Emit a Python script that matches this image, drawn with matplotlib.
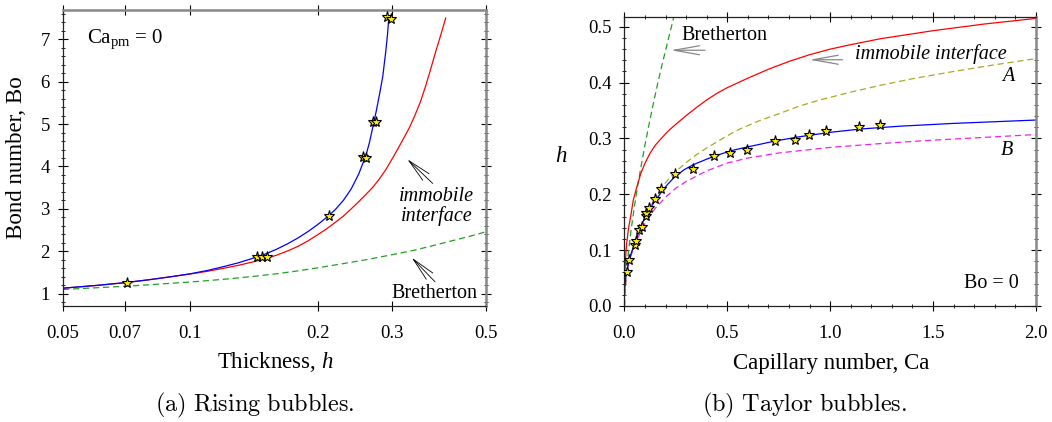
import matplotlib
matplotlib.use("Agg")
import matplotlib.pyplot as plt
from matplotlib.ticker import FixedLocator, NullLocator, MultipleLocator, FormatStrFormatter

plt.rcParams.update({
    "font.family": "Liberation Serif",
    "mathtext.fontset": "custom",
    "mathtext.rm": "Liberation Serif",
    "mathtext.it": "Liberation Serif:italic",
    "font.size": 13,
})

# ---- (a) rising bubbles: Bo vs h ----
a_blue_h = [0.05, 0.06, 0.07, 0.08, 0.09, 0.10, 0.11, 0.12, 0.13, 0.14, 0.15, 0.16, 0.17,
            0.18, 0.19, 0.20, 0.21, 0.22, 0.23, 0.24, 0.25, 0.26, 0.265, 0.27, 0.275, 0.28,
            0.285, 0.29, 0.2925, 0.2945]
a_blue_bo = [1.13, 1.195, 1.26, 1.33, 1.40, 1.47, 1.55, 1.64, 1.73, 1.83, 1.93, 2.05, 2.18,
             2.32, 2.47, 2.63, 2.80, 2.98, 3.20, 3.47, 3.82, 4.26, 4.56, 4.93, 5.30, 5.70,
             6.12, 6.75, 7.12, 7.5]
a_red_h = [0.05, 0.06, 0.07, 0.08, 0.09, 0.10, 0.11, 0.12, 0.13, 0.14, 0.15, 0.16, 0.17, 0.18,
           0.19, 0.20, 0.21, 0.22, 0.23, 0.24, 0.25, 0.26, 0.27, 0.28, 0.29, 0.30, 0.31, 0.32,
           0.33, 0.34, 0.35, 0.36, 0.37, 0.38, 0.39, 0.4015]
a_red_bo = [1.13, 1.195, 1.26, 1.33, 1.40, 1.465, 1.53, 1.60, 1.67, 1.745, 1.82, 1.91, 2.01,
            2.12, 2.25, 2.39, 2.53, 2.68, 2.83, 3.00, 3.17, 3.34, 3.51, 3.71, 3.93, 4.18,
            4.43, 4.68, 4.93, 5.22, 5.53, 5.90, 6.30, 6.70, 7.07, 7.5]
a_bret_h = [0.05, 0.06, 0.07, 0.08, 0.09, 0.10, 0.12, 0.14, 0.16, 0.18, 0.20, 0.23, 0.26,
            0.30, 0.34, 0.38, 0.42, 0.46, 0.50]
a_bret_bo = [1.10, 1.14, 1.175, 1.21, 1.245, 1.275, 1.34, 1.405, 1.47, 1.54, 1.61, 1.71, 1.80,
             1.92, 2.03, 2.15, 2.26, 2.36, 2.46]
a_star_h = [0.0707, 0.1435, 0.148, 0.152, 0.2131, 0.2564, 0.260, 0.2698, 0.2748, 0.2912, 0.2977]
a_star_bo = [1.26, 1.87, 1.87, 1.87, 2.84, 4.22, 4.2, 5.05, 5.04, 7.52, 7.47]
a_xticks = [0.05, 0.07, 0.1, 0.2, 0.3, 0.5]
a_xlabels = ["0.05", "0.07", "0.1", "0.2", "0.3", "0.5"]

# ---- (b) Taylor bubbles: h vs Ca ----
b_bret_ca = [0.0, 0.002, 0.005, 0.01, 0.015, 0.02, 0.03, 0.04, 0.05, 0.065, 0.08, 0.1, 0.116,
             0.14, 0.16, 0.18, 0.2, 0.22, 0.245]
b_bret_h = [0.0, 0.021, 0.039, 0.062, 0.082, 0.099, 0.130, 0.157, 0.182, 0.217, 0.249, 0.289,
            0.319, 0.362, 0.396, 0.428, 0.458, 0.488, 0.525]
b_red_ca = [0.002, 0.005, 0.01, 0.02, 0.03, 0.043, 0.06, 0.08, 0.1, 0.125, 0.15, 0.175, 0.2,
            0.225, 0.25, 0.3, 0.35, 0.4, 0.45, 0.5, 0.6, 0.7, 0.8, 0.9, 1.0, 1.1, 1.25, 1.5,
            1.75, 2.0]
b_red_h = [0.06, 0.085, 0.11, 0.14, 0.16, 0.19, 0.213, 0.238, 0.256, 0.274, 0.288, 0.2985,
           0.3085, 0.3175, 0.3255, 0.341, 0.3555, 0.369, 0.381, 0.391, 0.408, 0.424, 0.438,
           0.450, 0.460, 0.468, 0.479, 0.493, 0.505, 0.515]
b_a_ca = [0.0, 0.011, 0.023, 0.05, 0.075, 0.1, 0.15, 0.2, 0.25, 0.3, 0.35, 0.4, 0.45, 0.5,
          0.561, 0.65, 0.756, 0.85, 0.95, 1.1, 1.242, 1.4, 1.6, 1.8, 2.0]
b_a_h = [0.02, 0.061, 0.083, 0.112, 0.14, 0.163, 0.195, 0.221, 0.241, 0.257, 0.271, 0.283,
         0.294, 0.305, 0.317, 0.331, 0.345, 0.358, 0.369, 0.383, 0.395, 0.407, 0.420, 0.432,
         0.443]
b_blue_ca = [0.001, 0.005, 0.011, 0.023, 0.035, 0.05, 0.075, 0.1, 0.125, 0.15, 0.18, 0.21,
             0.244, 0.29, 0.334, 0.4, 0.45, 0.529, 0.6, 0.74, 0.85, 1.0, 1.15, 1.339, 1.6,
             1.8, 2.0]
b_blue_h = [0.03, 0.048, 0.061, 0.083, 0.097, 0.112, 0.138, 0.159, 0.175, 0.189, 0.204, 0.218,
            0.231, 0.244, 0.253, 0.263, 0.270, 0.279, 0.285, 0.296, 0.303, 0.311, 0.317, 0.322,
            0.327, 0.330, 0.333]
b_b_ca = [0.0, 0.002, 0.005, 0.01, 0.02, 0.035, 0.05, 0.075, 0.1, 0.125, 0.15, 0.2, 0.25, 0.3,
          0.4, 0.5, 0.6, 0.75, 0.85, 1.0, 1.25, 1.5, 1.75, 2.0]
b_b_h = [0.0, 0.025, 0.04, 0.056, 0.075, 0.094, 0.108, 0.13, 0.148, 0.163, 0.175, 0.195, 0.211,
         0.223, 0.242, 0.256, 0.265, 0.274, 0.278, 0.284, 0.291, 0.297, 0.302, 0.307]
b_star_ca = [0.0099, 0.0214, 0.051, 0.0577, 0.071, 0.084, 0.104, 0.107, 0.120, 0.150, 0.180,
             0.244, 0.335, 0.437, 0.513, 0.595, 0.734, 0.829, 0.899, 0.978, 1.139, 1.241]
b_star_h = [0.061, 0.082, 0.109, 0.117, 0.136, 0.142, 0.161, 0.166, 0.175, 0.191, 0.209,
            0.236, 0.246, 0.268, 0.274, 0.280, 0.296, 0.298, 0.306, 0.313, 0.321, 0.324]

fig = plt.figure(figsize=(10.52, 4.22), dpi=100)
ax1 = fig.add_axes([0.0599, 0.2749, 0.4021, 0.7014])
ax2 = fig.add_axes([0.5936, 0.2749, 0.3911, 0.6841])

star_kw = dict(ls="none", marker="*", ms=8, mfc="#ffee00", mec="black", mew=0.8, zorder=5)
lw = 0.9


def style_axes(ax):
    ax.tick_params(which="both", direction="inout", top=True, right=True, labelsize=13.5, pad=6)
    ax.tick_params(which="major", length=7, width=0.8)
    ax.tick_params(which="minor", length=3.5, width=0.6)
    for s in ax.spines.values():
        s.set_linewidth(0.9)
        s.set_color("#222222")


# panel (a)
ax1.plot(a_bret_h, a_bret_bo, color="#22a022", lw=lw, dashes=(5, 3))
ax1.plot(a_red_h, a_red_bo, color="red", lw=lw)
ax1.plot(a_blue_h, a_blue_bo, color="blue", lw=lw)
ax1.plot(a_star_h, a_star_bo, **star_kw)
ax1.set_xscale("log")
ax1.set_xlim(0.05, 0.5)
ax1.set_ylim(0.71, 7.69)
ax1.xaxis.set_major_locator(FixedLocator(a_xticks))
ax1.set_xticklabels(a_xlabels)
ax1.xaxis.set_minor_locator(NullLocator())
ax1.yaxis.set_major_locator(MultipleLocator(1))
ax1.yaxis.set_minor_locator(MultipleLocator(0.2))
style_axes(ax1)
ax1.tick_params(axis="x", pad=10)
for side in ("top", "right"):
    ax1.spines[side].set_color("#888888")
    ax1.spines[side].set_linewidth(1.8)

ax1.text(0.056, 0.90, r"Ca$_{\rm pm}$ = 0", transform=ax1.transAxes, fontsize=15,
         ha="left", va="center")
ax1.text(0.3824, 3.05, "immobile\ninterface", style="italic", fontsize=14.5, ha="center",
         va="center", linespacing=1.0)
ax1.text(0.3786, 1.01, "Bretherton", fontsize=14.5, ha="center", va="center")
arr = dict(arrowstyle="->,head_length=1.3,head_width=0.25", color="black", lw=0.6,
           shrinkA=0, shrinkB=0)
ax1.annotate("", xy=(0.3258, 4.17), xytext=(0.374, 3.60), arrowprops=arr)
ax1.annotate("", xy=(0.3337, 1.85), xytext=(0.3788, 1.28), arrowprops=arr)

# panel (b)
ax2.plot(b_bret_ca, b_bret_h, color="#22a022", lw=lw, dashes=(5, 3))
ax2.plot(b_red_ca, b_red_h, color="red", lw=lw)
ax2.plot(b_a_ca, b_a_h, color="#aaaa22", lw=lw, dashes=(5, 3))
ax2.plot(b_b_ca, b_b_h, color="#ee22ee", lw=lw, dashes=(5, 3))
ax2.plot(b_blue_ca, b_blue_h, color="blue", lw=lw)
ax2.plot(b_star_ca, b_star_h, **star_kw)
ax2.set_xlim(0, 2.0)
ax2.set_ylim(0, 0.517)
ax2.xaxis.set_major_locator(MultipleLocator(0.5))
ax2.xaxis.set_minor_locator(MultipleLocator(0.1))
ax2.yaxis.set_major_locator(MultipleLocator(0.1))
ax2.yaxis.set_minor_locator(MultipleLocator(0.02))
ax2.xaxis.set_major_formatter(FormatStrFormatter("%.1f"))
ax2.yaxis.set_major_formatter(FormatStrFormatter("%.1f"))
style_axes(ax2)
ax2.tick_params(axis="x", pad=10)
ax2.spines["right"].set_color("#888888")
ax2.spines["right"].set_linewidth(1.8)

ax2.text(0.278, 0.485, "Bretherton", fontsize=14.5, ha="left", va="center")
ax2.text(1.858, 0.452, "immobile interface", style="italic", fontsize=14.5, ha="right",
         va="center")
ax2.text(1.866, 0.411, "A", style="italic", fontsize=14.5, ha="center", va="center")
ax2.text(1.858, 0.278, "B", style="italic", fontsize=14.5, ha="center", va="center")
ax2.text(1.919, 0.0406, "Bo = 0", fontsize=14.5, ha="right", va="center")
arr2 = dict(arrowstyle="->,head_length=1.4,head_width=0.25", color="#888888", lw=0.9,
            shrinkA=0, shrinkB=0)
ax2.annotate("", xy=(0.2245, 0.458), xytext=(0.391, 0.458), arrowprops=arr2)
ax2.annotate("", xy=(0.899, 0.441), xytext=(1.06, 0.441), arrowprops=arr2)

# axis labels and captions
W, H = 1052, 422
fig.text(17 / W, 1 - 158 / H, "Bond number, Bo", rotation=90, ha="center", va="center",
         fontsize=16.5)
fig.text(275 / W, 1 - 362 / H, r"Thickness, $h$", ha="center", va="center", fontsize=16.5)
fig.text(561 / W, 1 - 157 / H, r"$h$", ha="center", va="center", fontsize=16.5)
fig.text(831 / W, 1 - 363 / H, "Capillary number, Ca", ha="center", va="center",
         fontsize=16.5)
fig.text(255 / W, 1 - 405 / H, r"$\mathrm{(a)\ Rising\ bubbles.}$", ha="center",
         va="center", fontsize=17.5, math_fontfamily="cm")
fig.text(805 / W, 1 - 405 / H, r"$\mathrm{(b)\ Taylor\ bubbles.}$", ha="center",
         va="center", fontsize=17.5, math_fontfamily="cm")

fig.savefig("out.png", dpi=100)
